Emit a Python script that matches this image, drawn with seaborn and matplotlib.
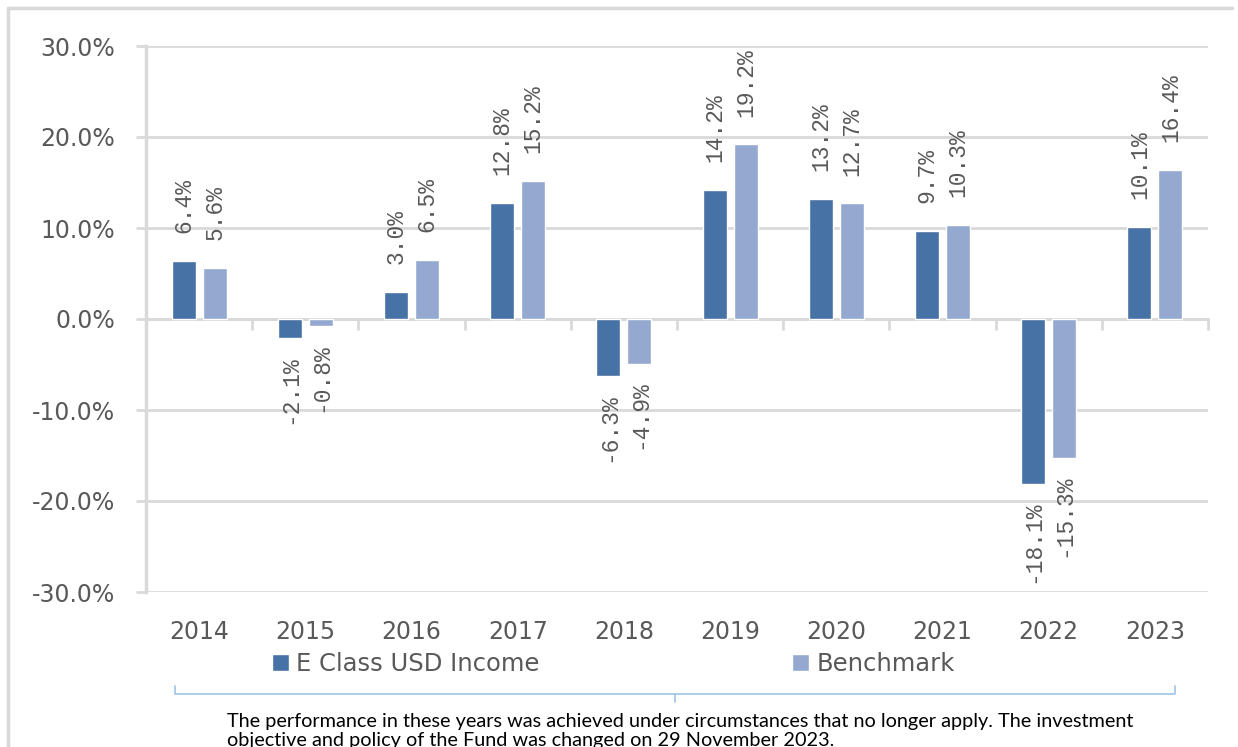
import numpy as np
import pandas as pd
import matplotlib
matplotlib.use("Agg")
import matplotlib.pyplot as plt
import seaborn as sns
from matplotlib.lines import Line2D

# ---- data ----
years = ["2014", "2015", "2016", "2017", "2018", "2019", "2020", "2021", "2022", "2023"]
e_class = [6.4, -2.1, 3.0, 12.8, -6.3, 14.2, 13.2, 9.7, -18.1, 10.1]
benchmark = [5.6, -0.8, 6.5, 15.2, -4.9, 19.2, 12.7, 10.3, -15.3, 16.4]
series_names = ["E Class USD Income", "Benchmark"]
y_ticks = [-30, -20, -10, 0, 10, 20, 30]
footnote = ("The performance in these years was achieved under circumstances that no longer apply. The investment\n"
            "objective and policy of the Fund was changed on 29 November 2023.")

colors = ["#4672A6", "#94A8D0"]
grid_c = "#D9D9D9"
text_c = "#595959"

df = pd.DataFrame({
    "Year": years * 2,
    "Return": e_class + benchmark,
    "Series": [series_names[0]] * len(years) + [series_names[1]] * len(years),
})

sns.set_style("white")
plt.rcParams["font.family"] = ["DejaVu Sans"]

W, H = 1238, 747
fig = plt.figure(figsize=(W / 100, H / 100), dpi=100)
ax = fig.add_axes([146 / W, 1 - 592 / H, (1208 - 146) / W, (592 - 46) / H])

sns.barplot(data=df, x="Year", y="Return", hue="Series", hue_order=series_names,
            palette=colors, saturation=1, width=0.584, gap=0.23, errorbar=None, ax=ax)

ax.set_xlim(-0.5, len(years) - 0.5)
ax.set_ylim(y_ticks[0], y_ticks[-1])
ax.set_yticks(y_ticks)
ax.set_yticklabels([f"{t:.1f}%" for t in y_ticks])
ax.set_xlabel("")
ax.set_ylabel("")
ax.yaxis.grid(True, color=grid_c, lw=2)
ax.set_axisbelow(True)
for s in ["top", "right", "bottom"]:
    ax.spines[s].set_visible(False)
ax.spines["left"].set_color(grid_c)
ax.spines["left"].set_linewidth(2.5)
ax.tick_params(axis="y", length=7, width=2, color=grid_c, labelcolor=text_c,
               labelsize=17, pad=15, left=True)
ax.tick_params(axis="x", length=0, labelcolor=text_c, labelsize=17, pad=20)

# zero line with category-boundary ticks
sec = ax.secondary_xaxis(0, transform=ax.transData)
sec.set_xticks(np.arange(len(years) + 1) - 0.5)
sec.xaxis.set_ticks_position("bottom")
sec.tick_params(axis="x", direction="out", length=8, width=2, color=grid_c,
                labelbottom=False, labeltop=False)
for s in sec.spines.values():
    s.set_color(grid_c)
    s.set_linewidth(2)

# data labels (positive above, negative below)
lab_kw = dict(rotation=90, fontsize=16.5, family="Liberation Mono", color=text_c)
for cont in ax.containers:
    vals = cont.datavalues
    ax.bar_label(cont, labels=[f"{v:.1f}%" if v >= 0 else "" for v in vals],
                 padding=20, **lab_kw)
    ax.bar_label(cont, labels=[f"{v:.1f}%" if v < 0 else "" for v in vals],
                 padding=12, **lab_kw)

# legend
handles, labels = ax.get_legend_handles_labels()
if ax.get_legend() is not None:
    ax.get_legend().remove()
fig.legend(handles, labels, ncol=2, loc="center left",
           bbox_to_anchor=(272 / W, 1 - 664 / H), frameon=False, fontsize=17.5,
           handlelength=0.7, handleheight=0.7, handletextpad=0.3,
           columnspacing=10.4, labelcolor=text_c, borderpad=0, borderaxespad=0)

# outer border (top and left)
fig.add_artist(Line2D([8 / W, 8 / W], [0, 1 - 8 / H], transform=fig.transFigure,
                      color=grid_c, lw=2.5))
fig.add_artist(Line2D([8 / W, 1232 / W], [1 - 8 / H, 1 - 8 / H], transform=fig.transFigure,
                      color=grid_c, lw=2.5))

# bracket
bc = "#9DC3E6"
fig.add_artist(Line2D([175 / W, 175 / W, 1175 / W, 1175 / W],
                      [1 - 686 / H, 1 - 694 / H, 1 - 694 / H, 1 - 686 / H],
                      transform=fig.transFigure, color=bc, lw=1.2))
fig.add_artist(Line2D([675 / W, 675 / W], [1 - 694 / H, 1 - 702 / H],
                      transform=fig.transFigure, color=bc, lw=1.2))

fig.text(680 / W, 1 - 713 / H, footnote, ha="center", va="top", fontsize=14.3,
         family="Lato", color="black", linespacing=1.12, multialignment="left")

fig.savefig("out.png", dpi=100)
